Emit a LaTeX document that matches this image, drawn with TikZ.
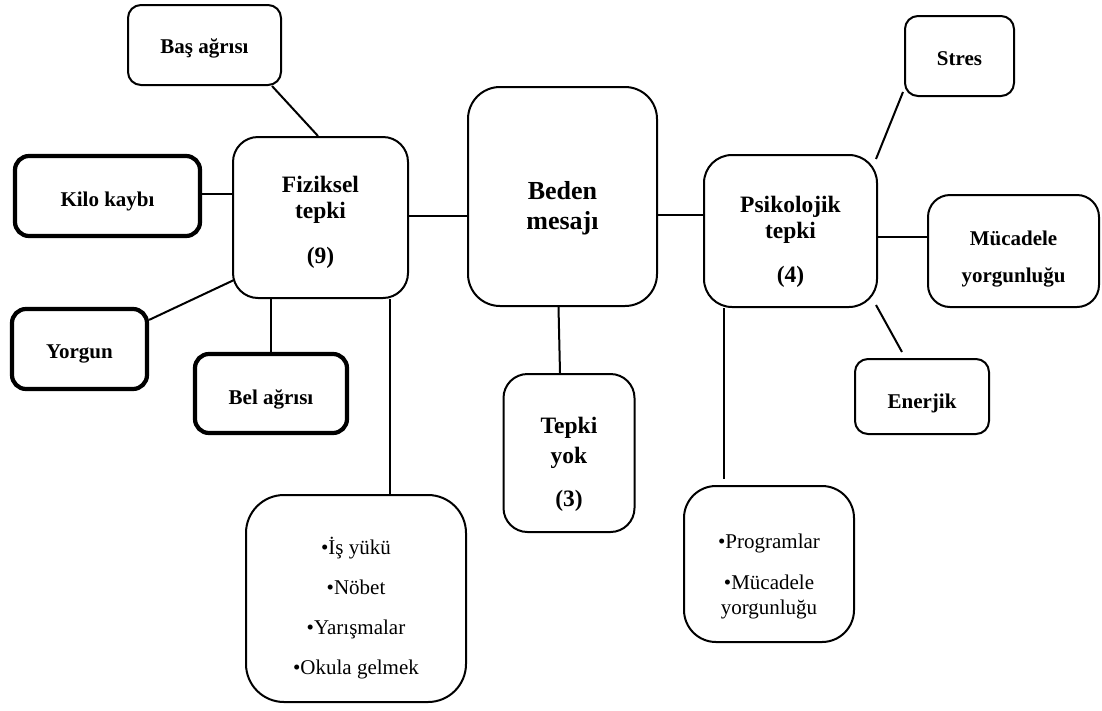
\documentclass[tikz,border=0pt]{standalone}
\usepackage{fontspec}
\setmainfont{Liberation Serif}
\newcommand\beforebig{\fontsize{26}{30}\selectfont\bfseries}
\newcommand\mainbold{\fontsize{23.5}{26}\selectfont\bfseries}
\newcommand\leafbold{\fontsize{21}{25}\selectfont\bfseries}
\newcommand\listreg{\fontsize{21}{25}\selectfont}
\begin{document}
\begin{tikzpicture}[x=1pt,y=-1pt,
  box/.style={draw, line width=2pt, rounded corners=#1, inner sep=0pt},
  box/.default=13pt,
  heavy/.style={box=#1, line width=4.2pt},
  heavy/.default=14pt,
  link/.style={line width=2pt},
  lbl/.style={align=center, inner sep=0pt}]
\useasboundingbox (0,0) rectangle (1102,710);

% boxes
\node[box] (bas) at (204.5,45) [minimum width=153pt, minimum height=80pt] {};
\node[box=25pt] (fiz) at (320.5,217.5) [minimum width=175pt, minimum height=161pt] {};
\node[heavy] (kilo) at (107.5,196) [minimum width=185pt, minimum height=80pt] {};
\node[heavy] (yorgun) at (79.5,349) [minimum width=135pt, minimum height=80pt] {};
\node[heavy] (bel) at (271,393.5) [minimum width=152pt, minimum height=79pt] {};
\node[box=32pt] (beden) at (562.5,196.5) [minimum width=189pt, minimum height=219pt] {};
\node[box=28pt] (psi) at (790.5,231) [minimum width=173pt, minimum height=152pt] {};
\node[box] (stres) at (959.5,56) [minimum width=109pt, minimum height=80pt] {};
\node[box=22pt] (muc) at (1013.5,251) [minimum width=171pt, minimum height=112pt] {};
\node[box] (ener) at (922,396.5) [minimum width=134pt, minimum height=75pt] {};
\node[box=24pt] (tepki) at (569,453) [minimum width=131pt, minimum height=158pt] {};
\node[box=38pt] (list1) at (356,598.5) [minimum width=220pt, minimum height=207pt] {};
\node[box=32pt] (list2) at (769,564) [minimum width=170pt, minimum height=156pt] {};

% labels
\node[lbl, font=\leafbold] (bastext) at (204.5,48) {Baş ağrısı};
\node[lbl, font=\mainbold] (fiztext) at (320.5,222) {Fiziksel\\tepki\\[19pt](9)};
\node[lbl, font=\leafbold] (kilotext) at (107.5,201) {Kilo kaybı};
\node[lbl, font=\leafbold] (yorguntext) at (79.5,354) {Yorgun};
\node[lbl, font=\leafbold] (beltext) at (271,399) {Bel ağrısı};
\node[lbl, font=\beforebig] (bedentext) at (562.5,208) {Beden\\mesajı};
\node[lbl, font=\mainbold] (psitext) at (790.5,242) {Psikolojik\\tepki\\[18pt](4)};
\node[lbl, font=\leafbold] (strestext) at (959.5,59) {Stres};
\node[lbl, font=\leafbold] (muctext) at (1013.5,259) {Mücadele\\[12pt]yorgunluğu};
\node[lbl, font=\leafbold] (enertext) at (922,403) {Enerjik};
\node[lbl, font=\mainbold] (tepkitext) at (569,464) {Tepki\\[4pt]yok\\[17pt](3)};
\node[lbl, font=\listreg] (list1text) at (356,608) {•İş yükü\\[15pt]•Nöbet\\[15pt]•Yarışmalar\\[15pt]•Okula gelmek};
\node[lbl, font=\listreg] (list2text) at (769,576) {•Programlar\\[16pt]•Mücadele\\yorgunluğu};

% connectors
\draw[link] ([xshift=-10pt]bas.south east) -- ([xshift=86pt]fiz.north west);
\draw[link] ([yshift=2pt]kilo.east) -- ([yshift=2pt]kilo.east -| fiz.west);
\draw[link] ([yshift=-13pt]yorgun.north east) -- ([xshift=2pt,yshift=19pt]fiz.south west);
\draw[link] (bel.north) -- (bel.north |- fiz.south);
\draw[link] ([xshift=-19pt]fiz.south east) -- ([xshift=-19pt]fiz.south east |- list1.north);
\draw[link] ([yshift=2pt]fiz.east) -- ([yshift=2pt]fiz.east -| beden.west);
\draw[link] ([yshift=-18.5pt]beden.east) -- ([yshift=-18.5pt]beden.east -| psi.west);
\draw[link] ([xshift=-4pt]beden.south) -- ([xshift=-9pt]tepki.north);
\draw[link] ([xshift=-1pt,yshift=5pt]stres.south west) -- ([xshift=-2pt,yshift=-5pt]psi.north east);
\draw[link] ([yshift=14pt]muc.west) -- ([yshift=14pt]muc.west -| psi.east);
\draw[link] ([xshift=-2pt,yshift=3pt]psi.south east) -- ([xshift=48pt,yshift=6pt]ener.north west);
\draw[link, shorten >=6pt] ([xshift=21pt]psi.south west) -- ([xshift=21pt]psi.south west |- list2.north);
\end{tikzpicture}
\end{document}
